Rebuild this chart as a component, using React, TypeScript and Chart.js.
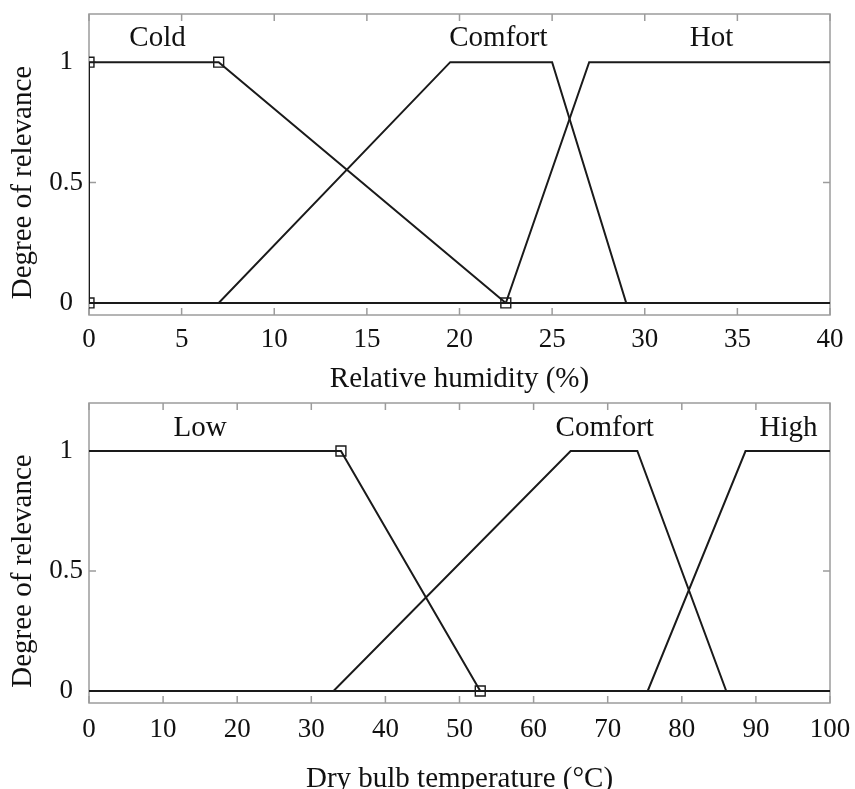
import React, { useEffect, useRef } from "react";
import { Chart, registerables } from "chart.js";

Chart.register(...registerables);

// ---------- Data: top chart (relative humidity) ----------
const humTicks = [0, 5, 10, 15, 20, 25, 30, 35, 40];
const humColdX = [0, 0, 7, 22.5, 40];
const humColdY = [0, 1, 1, 0, 0];
const humComfortX = [0, 7, 19.5, 25, 29, 40];
const humComfortY = [0, 0, 1, 1, 0, 0];
const humHotX = [0, 22.5, 27, 40];
const humHotY = [0, 0, 1, 1];
const humLabels = ["Cold", "Comfort", "Hot"];
const humLabelAt = [3.7, 22.1, 33.6];

// ---------- Data: bottom chart (dry bulb temperature) ----------
const tempTicks = [0, 10, 20, 30, 40, 50, 60, 70, 80, 90, 100];
const tempLowX = [0, 34, 52.8, 100];
const tempLowY = [1, 1, 0, 0];
const tempComfortX = [0, 33, 65, 74, 86, 100];
const tempComfortY = [0, 0, 1, 1, 0, 0];
const tempHighX = [0, 75.4, 88.6, 100];
const tempHighY = [0, 0, 1, 1];
const tempLabels = ["Low", "Comfort", "High"];
const tempLabelAt = [15, 69.6, 94.4];

const yTickValues = [0, 0.5, 1];
const yTickLabels = ["0", "0.5", "1"];

const FONT = "'Liberation Serif', 'Times New Roman', serif";
const LINE = "#1a1a1a";
const FRAME = "#9c9c9c";

const pts = (xs: number[], ys: number[]) => xs.map((x, i) => ({ x, y: ys[i] }));

const framePlugin = {
  id: "frame",
  beforeDatasetsDraw(chart: any) {
    const { ctx, chartArea: a, scales } = chart;
    const x = scales.x;
    const y = scales.y;
    ctx.save();
    ctx.strokeStyle = FRAME;
    ctx.lineWidth = 1.5;
    ctx.strokeRect(a.left, a.top, a.right - a.left, a.bottom - a.top);
    ctx.beginPath();
    const tl = 7;
    for (const t of x.ticks) {
      const px = x.getPixelForValue(t.value);
      ctx.moveTo(px, a.bottom);
      ctx.lineTo(px, a.bottom - tl);
      ctx.moveTo(px, a.top);
      ctx.lineTo(px, a.top + tl);
    }
    for (const t of y.ticks) {
      const py = y.getPixelForValue(t.value);
      ctx.moveTo(a.left, py);
      ctx.lineTo(a.left + tl, py);
      ctx.moveTo(a.right, py);
      ctx.lineTo(a.right - tl, py);
    }
    ctx.stroke();
    ctx.restore();
  },
  afterDraw(chart: any, _args: any, opts: any) {
    const { ctx, scales } = chart;
    const x = scales.x;
    const y = scales.y;
    ctx.save();
    ctx.fillStyle = "#111";
    ctx.font = `${opts.labelSize}px ${FONT}`;
    ctx.textAlign = "center";
    ctx.textBaseline = "middle";
    (opts.labels as string[]).forEach((txt, i) => {
      ctx.fillText(txt, x.getPixelForValue(opts.labelAt[i]), y.getPixelForValue(opts.labelY));
    });
    // y axis title
    const cy = (y.getPixelForValue(0) + y.getPixelForValue(1)) / 2;
    ctx.translate(opts.yTitleX, cy);
    ctx.rotate(-Math.PI / 2);
    ctx.font = `${opts.titleSize}px ${FONT}`;
    ctx.fillText(opts.yTitle, 0, 0);
    ctx.restore();
  },
};

function makeConfig(p: {
  datasets: { data: { x: number; y: number }[]; markers: number[] }[];
  xTicks: number[];
  xTitle: string;
  labels: string[];
  labelAt: number[];
  labelY: number;
  padTop: number;
  xAxisHeight: number;
  titlePadBottom: number;
  tickPad: number;
}): any {
  const tickFont = { family: FONT, size: 27 };
  return {
    type: "scatter",
    data: {
      datasets: p.datasets.map((d) => ({
        data: d.data,
        showLine: true,
        borderColor: LINE,
        borderWidth: 2,
        pointStyle: "rect",
        pointRadius: d.data.map((_, i) => (d.markers.includes(i) ? 7 : 0)),
        pointBorderWidth: 1.4,
        pointBorderColor: LINE,
        pointBackgroundColor: "rgba(255,255,255,0)",
        tension: 0,
      })),
    },
    options: {
      responsive: false,
      animation: false,
      layout: { padding: { top: p.padTop, right: 25, left: 0, bottom: 0 } },
      plugins: {
        legend: { display: false },
        tooltip: { enabled: false },
        frame: {
          labels: p.labels,
          labelAt: p.labelAt,
          labelY: p.labelY,
          labelSize: 29,
          titleSize: 29,
          yTitle: "Degree of relevance",
          yTitleX: 23,
        },
      },
      scales: {
        x: {
          type: "linear",
          min: p.xTicks[0],
          max: p.xTicks[p.xTicks.length - 1],
          afterBuildTicks: (s: any) => {
            s.ticks = p.xTicks.map((v) => ({ value: v }));
          },
          afterFit: (s: any) => {
            s.height = p.xAxisHeight;
            s.paddingLeft = 0;
            s.paddingRight = 0;
          },
          grid: { display: false, drawTicks: false, tickLength: 0 },
          border: { display: false },
          ticks: {
            color: "#111",
            font: tickFont,
            padding: p.tickPad,
            maxRotation: 0,
            autoSkip: false,
            callback: (v: any) => String(v),
          },
          title: {
            display: true,
            text: p.xTitle,
            color: "#111",
            font: { family: FONT, size: 29, lineHeight: 1 },
            padding: { top: 0, bottom: p.titlePadBottom },
          },
        },
        y: {
          type: "linear",
          min: -0.05,
          max: 1.2,
          afterBuildTicks: (s: any) => {
            s.ticks = yTickValues.map((v) => ({ value: v }));
          },
          afterFit: (s: any) => {
            s.width = 89;
            s.paddingTop = 0;
            s.paddingBottom = 0;
          },
          grid: { display: false, drawTicks: false, tickLength: 0 },
          border: { display: false },
          ticks: {
            color: "#111",
            font: tickFont,
            padding: 6,
            crossAlign: "center",
            autoSkip: false,
            callback: (v: any) => {
              const i = yTickValues.indexOf(Number(v));
              return i >= 0 ? yTickLabels[i] : "";
            },
          },
        },
      },
    },
    plugins: [framePlugin],
  };
}

function FuzzyChart(props: { config: any; width: number; height: number; top: number }) {
  const ref = useRef<HTMLCanvasElement | null>(null);
  useEffect(() => {
    if (!ref.current) return;
    const chart = new Chart(ref.current, props.config);
    return () => chart.destroy();
  }, []);
  return (
    <canvas
      ref={ref}
      width={props.width}
      height={props.height}
      style={{ position: "absolute", left: 0, top: props.top, width: props.width, height: props.height, display: "block" }}
    />
  );
}

export default function App() {
  const topConfig = makeConfig({
    datasets: [
      { data: pts(humColdX, humColdY), markers: [0, 1, 2, 3] },
      { data: pts(humComfortX, humComfortY), markers: [] },
      { data: pts(humHotX, humHotY), markers: [] },
    ],
    xTicks: humTicks,
    xTitle: "Relative humidity (%)",
    labels: humLabels,
    labelAt: humLabelAt,
    labelY: 1.1,
    padTop: 14,
    xAxisHeight: 80,
    titlePadBottom: 1,
    tickPad: 9,
  });
  const bottomConfig = makeConfig({
    datasets: [
      { data: pts(tempLowX, tempLowY), markers: [1, 2] },
      { data: pts(tempComfortX, tempComfortY), markers: [] },
      { data: pts(tempHighX, tempHighY), markers: [] },
    ],
    xTicks: tempTicks,
    xTitle: "Dry bulb temperature (\u00B0C)",
    labels: tempLabels,
    labelAt: tempLabelAt,
    labelY: 1.095,
    padTop: 8,
    xAxisHeight: 86,
    titlePadBottom: -5,
    tickPad: 11,
  });
  return (
    <div style={{ position: "absolute", left: 0, top: 0, width: 855, height: 789, overflow: "hidden", background: "#fff" }}>
      <FuzzyChart config={topConfig} width={855} height={395} top={0} />
      <FuzzyChart config={bottomConfig} width={855} height={394} top={395} />
    </div>
  );
}
